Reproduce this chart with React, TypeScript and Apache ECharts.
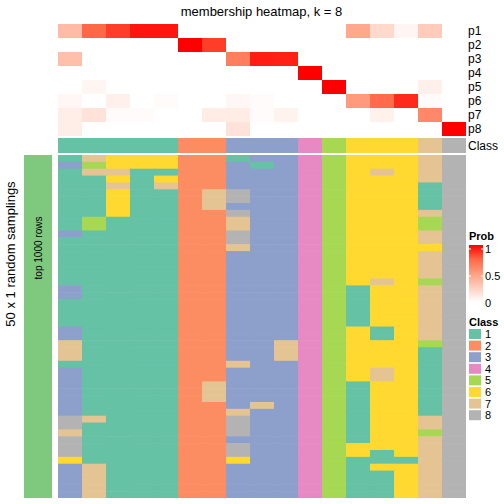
import React, { useEffect, useRef } from 'react';
import * as echarts from 'echarts';

const TITLE = 'membership heatmap, k = 8';
const SAMPLES = ['s1','s2','s3','s4','s5','s6','s7','s8','s9','s10','s11','s12','s13','s14','s15','s16','s17'];
const PROB_ROWS = ['p1','p2','p3','p4','p5','p6','p7','p8'];
const P1 = [0.35,0.75,0.85,0.95,0.95,0,0,0,0,0,0,0,0.45,0.2,0.05,0.27,0];
const P2 = [0,0,0,0,0,1,0.85,0,0,0,0,0,0,0,0,0,0];
const P3 = [0.33,0,0,0,0,0,0,0.65,0.93,0.92,0,0,0,0,0,0,0];
const P4 = [0,0,0,0,0,0,0,0,0,0,1,0,0,0,0,0,0];
const P5 = [0,0.05,0,0,0,0,0,0,0,0,0,1,0,0,0,0.08,0];
const P6 = [0.04,0,0.08,0,0.02,0,0,0.04,0.02,0,0,0,0.52,0.73,0.9,0.02,0];
const P7 = [0.09,0.15,0.02,0.02,0,0,0.1,0.1,0.02,0.06,0,0,0,0.07,0,0.6,0];
const P8 = [0.09,0,0,0,0,0,0,0.15,0,0,0,0,0,0,0,0,1];
const PROBS = [P1,P2,P3,P4,P5,P6,P7,P8];
const SAMPLE_CLASS = [1,1,1,1,1,2,2,3,3,3,4,5,6,6,6,7,8];
const SAMPLING_ROWS = [
  '17666221334566678','35666223134566678','17711223334567678','11616223334566678','11717223334566618',
  '11611278334566618','11611278334566618','11611273334566618','11611228334566678','15111227334566658',
  '15111227334566658','31111228334566678','11111228334566678','11111227334566668','11111223334566678',
  '11111223334566678','11111223334566678','11111223334566678','11111223334567658','31111223334516678',
  '31111223334516678','11111223334516678','11111223334516678','11111223334516678','11111223334516678',
  '31111223334561678','31111223334561678','71111223374566658','71111223374566618','71111223374566618',
  '11111227334566618','31111223334567618','31111223334567618','31111273334516618','31111273334516618',
  '31111273334516618','31111223734516618','31111227334516618','87111228334516678','81111228334516678',
  '71111228334516658','81111223334516678','81111228334566678','81111228334561678','61111226334511178',
  '37111223334516678','37111223334511678','37111223334511678','37111223334511678','37111223334511678'
];
const CLASS_NAMES = ['1','2','3','4','5','6','7','8'];
const CLASS_COLORS = ['#66C2A5','#FC8D62','#8DA0CB','#E78AC3','#A6D854','#FFD92F','#E5C494','#B3B3B3'];
const PROB_COLORS = ['#FFFFFF','#FFCFBF','#FF9E81','#FF6846','#FF0000'];
const PROB_TICKS = ['1','0.5','0'];

const FONT = '"Liberation Sans", Arial, Helvetica, sans-serif';

export default function App() {
  const ref = useRef<HTMLDivElement>(null);
  useEffect(() => {
    if (!ref.current) return;
    const chart = echarts.init(ref.current, undefined, { renderer: 'svg' });

    const probData: number[][] = [];
    PROBS.forEach((row, r) => row.forEach((v, c) => probData.push([c, r, v])));
    const classRowData = SAMPLE_CLASS.map((v, c) => [c, 0, v]);
    const samplingData: number[][] = [];
    SAMPLING_ROWS.forEach((row, r) => row.split('').forEach((ch, c) => samplingData.push([c, r, Number(ch)])));
    const rowIdx = SAMPLING_ROWS.map((_, i) => String(i + 1));

    const cell = (params: any, api: any) => {
      const c = api.coord([api.value(0), api.value(1)]);
      const s = api.size([1, 1]);
      const cs = params.coordSys;
      const x = c[0] - s[0] / 2;
      const y = c[1] - s[1] / 2;
      const w = Math.min(s[0] + 0.6, cs.x + cs.width - x);
      const h = Math.min(s[1] + 0.6, cs.y + cs.height - y);
      return { type: 'rect', shape: { x, y, width: w, height: h }, style: { fill: api.visual('color') } };
    };

    const hiddenX = (gi: number) => ({ type: 'category', gridIndex: gi, data: SAMPLES, show: false });

    const legendX = 469;
    const labelX = 485;
    const graphic: any[] = [
      { type: 'text', x: 261.5, y: 11, style: { text: TITLE, font: `13px ${FONT}`, fill: '#000', align: 'center', verticalAlign: 'middle' } },
      { type: 'rect', shape: { x: 24, y: 155, width: 28, height: 343 }, style: { fill: '#7FC97F' } },
      { type: 'text', x: 38, y: 248, rotation: Math.PI / 2, style: { text: 'top 1000 rows', font: `10px ${FONT}`, fill: '#000', align: 'center', verticalAlign: 'middle' } },
      { type: 'text', x: 10, y: 254, rotation: Math.PI / 2, style: { text: '50 x 1 random samplings', font: `13px ${FONT}`, fill: '#000', align: 'center', verticalAlign: 'middle' } },
      { type: 'text', x: legendX, y: 236, style: { text: 'Prob', font: `bold 11px ${FONT}`, fill: '#000', align: 'left', verticalAlign: 'middle' } },
      {
        type: 'rect', shape: { x: legendX, y: 245, width: 14, height: 57 },
        style: {
          fill: new echarts.graphic.LinearGradient(0, 0, 0, 1,
            PROB_COLORS.slice().reverse().map((col, i) => ({ offset: i / (PROB_COLORS.length - 1), color: col })))
        }
      },
      { type: 'text', x: legendX, y: 322, style: { text: 'Class', font: `bold 11px ${FONT}`, fill: '#000', align: 'left', verticalAlign: 'middle' } },
    ];
    const tickYs = [249, 276, 303];
    PROB_TICKS.forEach((t, i) => {
      graphic.push({ type: 'text', x: labelX, y: tickYs[i], style: { text: t, font: `11px ${FONT}`, fill: '#000', align: 'left', verticalAlign: 'middle' } });
      if (i < 2) {
        graphic.push({ type: 'line', shape: { x1: legendX, y1: tickYs[i], x2: legendX + 2, y2: tickYs[i] }, style: { stroke: '#fff', lineWidth: 1 } });
        graphic.push({ type: 'line', shape: { x1: legendX + 12, y1: tickYs[i], x2: legendX + 14, y2: tickYs[i] }, style: { stroke: '#fff', lineWidth: 1 } });
      }
    });
    CLASS_NAMES.forEach((n, i) => {
      const cy = 334 + i * 11.6;
      graphic.push({ type: 'rect', shape: { x: legendX, y: cy - 5, width: 12, height: 10 }, style: { fill: CLASS_COLORS[i] } });
      graphic.push({ type: 'text', x: labelX, y: cy, style: { text: n, font: `11px ${FONT}`, fill: '#000', align: 'left', verticalAlign: 'middle' } });
    });

    chart.setOption({
      animation: false,
      backgroundColor: '#fff',
      grid: [
        { left: 58, top: 24, width: 408, height: 112, outerBoundsMode: 'none' },
        { left: 58, top: 138, width: 408, height: 15, outerBoundsMode: 'none' },
        { left: 58, top: 155, width: 408, height: 343, outerBoundsMode: 'none' },
      ],
      xAxis: [hiddenX(0), hiddenX(1), hiddenX(2)],
      yAxis: [
        {
          type: 'category', gridIndex: 0, data: PROB_ROWS, inverse: true, position: 'right',
          axisLine: { show: false }, axisTick: { show: false }, splitLine: { show: false },
          axisLabel: { interval: 0, margin: 2, fontSize: 12, color: '#000', fontFamily: FONT },
        },
        {
          type: 'category', gridIndex: 1, data: ['Class'], inverse: true, position: 'right',
          axisLine: { show: false }, axisTick: { show: false }, splitLine: { show: false },
          axisLabel: { interval: 0, margin: 2, fontSize: 12, color: '#000', fontFamily: FONT },
        },
        { type: 'category', gridIndex: 2, data: rowIdx, inverse: true, show: false },
      ],
      visualMap: [
        {
          type: 'continuous', min: 0, max: 1, dimension: 2, seriesIndex: 0, show: false,
          inRange: { color: PROB_COLORS },
        },
        {
          type: 'piecewise', dimension: 2, seriesIndex: [1, 2], show: false,
          pieces: CLASS_NAMES.map((_, i) => ({ value: i + 1, color: CLASS_COLORS[i] })),
        },
      ],
      series: [
        { type: 'custom', xAxisIndex: 0, yAxisIndex: 0, renderItem: cell, data: probData, encode: { x: 0, y: 1 } },
        { type: 'custom', xAxisIndex: 1, yAxisIndex: 1, renderItem: cell, data: classRowData, encode: { x: 0, y: 1 } },
        { type: 'custom', xAxisIndex: 2, yAxisIndex: 2, renderItem: cell, data: samplingData, encode: { x: 0, y: 1 } },
      ],
      graphic,
    });
    return () => chart.dispose();
  }, []);
  return <div ref={ref} style={{ width: 504, height: 504, position: 'absolute', left: 0, top: 0 }} />;
}
